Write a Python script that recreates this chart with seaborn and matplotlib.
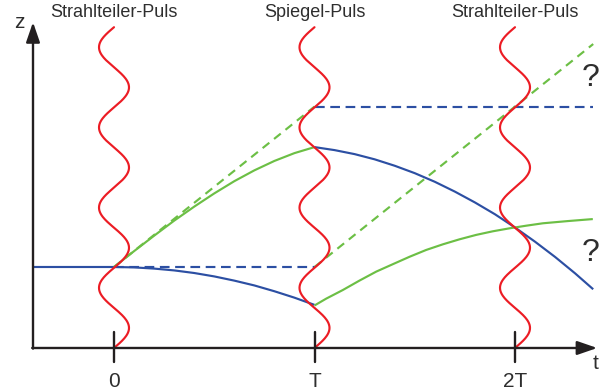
import numpy as np
import pandas as pd
import matplotlib
matplotlib.use("Agg")
import matplotlib.pyplot as plt
import seaborn as sns

# ---------------- data (t in units of T, z in same scale) ----------------
pulse_times = [0, 1, 2]
pulse_titles = ["Strahlteiler-Puls", "Spiegel-Puls", "Strahlteiler-Puls"]
tick_labels = ["0", "T", "2T"]

# lower path before mirror (blue, falling)
blue_low_t = [-0.404, 0.0, 0.1, 0.2, 0.3, 0.4, 0.5, 0.6, 0.7, 0.8, 0.9, 1.0]
blue_low_z = [0.404, 0.404, 0.402, 0.396, 0.387, 0.374, 0.357, 0.336, 0.312, 0.283, 0.251, 0.215]

# upper path before mirror (green, kicked)
green_up_t = [0.0, 0.1, 0.2, 0.3, 0.4, 0.5, 0.6, 0.7, 0.8, 0.9, 1.0]
green_up_z = [0.404, 0.483, 0.560, 0.635, 0.705, 0.771, 0.832, 0.886, 0.933, 0.972, 1.002]

# upper path after mirror (blue, falling)
blue_up_t = [1.0, 1.1, 1.2, 1.3, 1.4, 1.5, 1.6, 1.7, 1.8, 1.9, 2.0, 2.1, 2.2, 2.3, 2.39]
blue_up_z = [1.002, 0.987, 0.967, 0.941, 0.909, 0.872, 0.829, 0.780, 0.726, 0.667,
             0.601, 0.530, 0.454, 0.372, 0.293]

# lower path after mirror (green, kicked)
green_low_t = [1.0, 1.058, 1.141, 1.224, 1.308, 1.393, 1.474, 1.557, 1.640, 1.723,
               1.806, 1.889, 1.973, 2.056, 2.139, 2.263, 2.388]
green_low_z = [0.212, 0.246, 0.289, 0.336, 0.381, 0.419, 0.455, 0.489, 0.517, 0.542,
               0.564, 0.582, 0.597, 0.610, 0.622, 0.633, 0.643]

# free-flight reference lines (dashed)
green_dash1_t = [0.0, 1.0]
green_dash1_z = [0.404, 1.204]
green_dash2_t = [1.0, 2.39]
green_dash2_z = [0.404, 1.516]
blue_dash1_t = [0.0, 1.0]
blue_dash1_z = [0.404, 0.404]
blue_dash2_t = [1.0, 2.39]
blue_dash2_z = [1.204, 1.204]

# ---------------- style ----------------
RED = "#ec1c24"
BLUE = "#2c4fa3"
GREEN = "#6cbf45"
BLACK = "#231f20"
TEXT = "#2e2e2e"

sns.set_theme(style="white")
plt.rcParams["font.family"] = ["Liberation Sans", "DejaVu Sans"]

fig = plt.figure(figsize=(6.01, 3.92), dpi=100)
ax = fig.add_axes([0, 0, 1, 1])
ax.set_xlim(-0.5686, 2.4289)
ax.set_ylim(-0.2195, 1.7357)
ax.axis("off")

LW = 1.55

def line(t, z, color, dashed=False, dash=(4.5, 2.6)):
    df = pd.DataFrame({"t": t, "z": z})
    n0 = len(ax.lines)
    sns.lineplot(data=df, x="t", y="z", ax=ax, color=color, lw=LW,
                 sort=False, estimator=None, legend=False)
    ln = ax.lines[n0]
    ln.set_solid_capstyle("butt")
    ln.set_solid_joinstyle("round")
    if dashed:
        ln.set_dashes(dash)
    return ln

# dashed reference lines
line(blue_dash1_t, blue_dash1_z, BLUE, dashed=True)
line(blue_dash2_t, blue_dash2_z, BLUE, dashed=True)
line(green_dash1_t, green_dash1_z, GREEN, dashed=True, dash=(4.0, 2.8))
line(green_dash2_t, green_dash2_z, GREEN, dashed=True, dash=(4.0, 2.8))

# trajectories
line(blue_low_t, blue_low_z, BLUE)
line(green_up_t, green_up_z, GREEN)
line(blue_up_t, blue_up_z, BLUE)
line(green_low_t, green_low_z, GREEN)

# laser pulses (wavy red lines)
zz = np.linspace(0, 1.6, 400)
for t0 in pulse_times:
    ax.plot(t0 + 0.0748 * np.sin(2 * np.pi * zz / 0.4), zz, color=RED, lw=LW, zorder=5)

# axes with arrows
x0 = -0.404
ax.annotate("", xy=(x0, 1.625), xytext=(x0, -0.003),
            arrowprops=dict(arrowstyle="-|>,head_length=1.1,head_width=0.38",
                            mutation_scale=11, lw=1.7, color=BLACK,
                            shrinkA=0, shrinkB=0), zorder=6)
ax.annotate("", xy=(2.41, 0.0), xytext=(x0 - 0.004, 0.0),
            arrowprops=dict(arrowstyle="-|>,head_length=1.1,head_width=0.38",
                            mutation_scale=11, lw=1.7, color=BLACK,
                            shrinkA=0, shrinkB=0), zorder=6)

# ticks and labels
for t0, lab, title in zip(pulse_times, tick_labels, pulse_titles):
    ax.plot([t0, t0], [-0.072, 0.080], color=BLACK, lw=1.7, zorder=6)
    ax.text(t0, -0.165, lab, ha="center", va="center", fontsize=15, color=TEXT)
    ax.text(t0, 1.672, title, ha="center", va="center", fontsize=13, color=TEXT)

ax.text(-0.473, 1.621, "z", ha="center", va="center", fontsize=15, color=TEXT)
ax.text(2.40, -0.075, "t", ha="center", va="center", fontsize=15, color=TEXT)

ax.text(2.423, 1.345, "?", ha="right", va="center", fontsize=23, color=TEXT)
ax.text(2.423, 0.475, "?", ha="right", va="center", fontsize=23, color=TEXT)

fig.savefig("out.png", dpi=100)
